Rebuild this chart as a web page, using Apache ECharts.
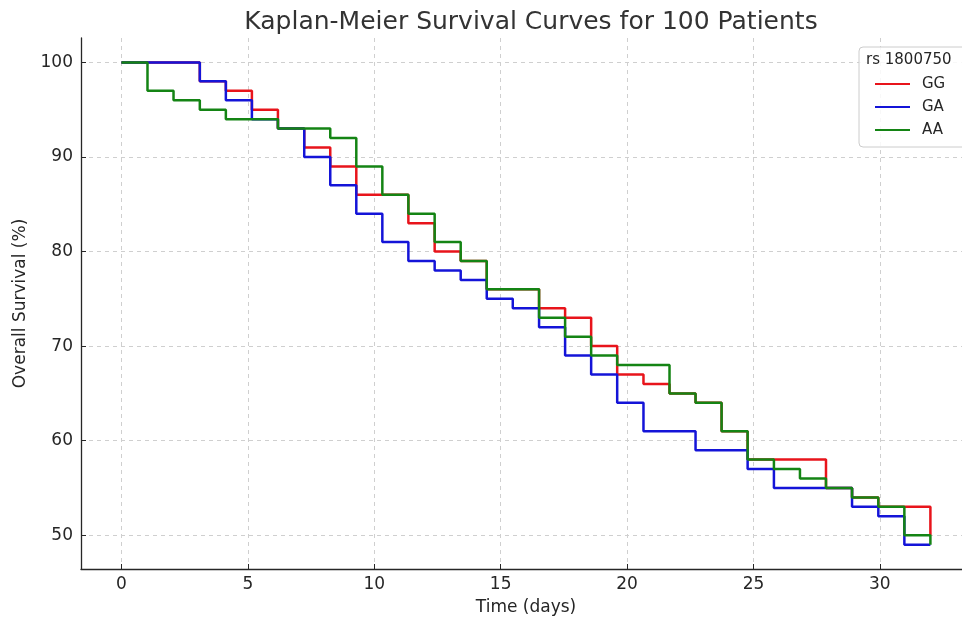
<!DOCTYPE html>
<html>
<head>
<meta charset="utf-8">
<script src="https://cdn.jsdelivr.net/npm/echarts@6/dist/echarts.min.js"></script>
<style>
  html, body { margin: 0; padding: 0; background: #fff; }
  #chart { width: 962px; height: 622px; }
</style>
</head>
<body>
<div id="chart"></div>
<script>
// event times (days), same grid for all three genotypes
const times = [0, 1.03, 2.06, 3.10, 4.13, 5.16, 6.19, 7.23, 8.26, 9.29, 10.32, 11.35,
    12.39, 13.42, 14.45, 15.48, 16.52, 17.55, 18.58, 19.61, 20.65, 21.68, 22.71,
    23.74, 24.77, 25.81, 26.84, 27.87, 28.90, 29.94, 30.97, 32.00]

// overall survival (%) per genotype
const survGG = [100, 100, 100, 98, 97, 95, 93, 91, 89, 86, 86, 83, 80, 79, 76, 76,
    74, 73, 70, 67, 66, 65, 64, 61, 58, 58, 58, 55, 54, 53, 53, 50]
const survGA = [100, 100, 100, 98, 96, 94, 93, 90, 87, 84, 81, 79, 78, 77, 75, 74,
    72, 69, 67, 64, 61, 61, 59, 59, 57, 55, 55, 55, 53, 52, 49, 49]
const survAA = [100, 97, 96, 95, 94, 94, 93, 93, 92, 89, 86, 84, 81, 79, 76, 76,
    73, 71, 69, 68, 68, 65, 64, 61, 58, 57, 56, 55, 54, 53, 50, 49]

const xTicks = [0, 5, 10, 15, 20, 25, 30]
const yTicks = [50, 60, 70, 80, 90, 100]

const seriesNames = ['GG', 'GA', 'AA']
const seriesColors = ['#e8141b', '#1414d8', '#148414']

const font = 'DejaVu Sans, sans-serif'
const textColor = '#262626'
const gridColor = '#cfcfcf'

const myChart = echarts.init(document.getElementById('chart'))

function toPairs(values) {
    return times.map((t, i) => [t, values[i]])
}

const option = {
    animation: false,
    backgroundColor: '#fff',
    title: {
        text: 'Kaplan-Meier Survival Curves for 100 Patients',
        left: 526,
        top: 5,
        textAlign: 'center',
        textStyle: { fontFamily: font, fontSize: 25, fontWeight: 'normal', color: '#333' }
    },
    grid: { left: 81, right: 0, top: 38, bottom: 53 },
    legend: {
        data: seriesNames,
        orient: 'vertical',
        left: 859,
        top: 47,
        padding: [28, 24, 8, 16],
        itemGap: 5,
        itemWidth: 35,
        itemHeight: 2,
        icon: 'rect',
        borderColor: '#cccccc',
        borderWidth: 1,
        borderRadius: 4,
        backgroundColor: 'rgba(255,255,255,0.85)',
        textStyle: { fontFamily: font, fontSize: 15, color: textColor, lineHeight: 18, padding: [0, 0, 0, 7] }
    },
    graphic: [{
        type: 'text',
        left: 866,
        top: 53,
        z: 100,
        style: { text: 'rs 1800750', font: '15px DejaVu Sans', fill: textColor }
    }],
    xAxis: {
        type: 'value',
        min: -1.6,
        max: 33.25,
        name: 'Time (days)',
        nameLocation: 'middle',
        nameGap: 30,
        nameTextStyle: { fontFamily: font, fontSize: 17, color: textColor, padding: [0, 0, 0, 9] },
        axisLine: { show: true, onZero: false, lineStyle: { color: '#262626', width: 1.3 } },
        axisTick: { show: true, inside: true, length: 5, customValues: xTicks, lineStyle: { color: '#262626' } },
        axisLabel: { customValues: xTicks, margin: 7, fontFamily: font, fontSize: 17, color: textColor },
        splitLine: { show: true, lineStyle: { color: gridColor, type: [4, 4], width: 1 } }
    },
    yAxis: {
        type: 'value',
        min: 46.43,
        max: 102.58,
        name: 'Overall Survival (%)',
        nameLocation: 'middle',
        nameGap: 52,
        nameTextStyle: { fontFamily: font, fontSize: 17, color: textColor },
        axisLine: { show: true, onZero: false, lineStyle: { color: '#262626', width: 1.3 } },
        axisTick: { show: true, inside: true, length: 5, customValues: yTicks, lineStyle: { color: '#262626' } },
        axisLabel: { customValues: yTicks, margin: 8, fontFamily: font, fontSize: 17, color: textColor },
        splitLine: { show: true, lineStyle: { color: gridColor, type: [4, 4], width: 1 } }
    },
    series: [survGG, survGA, survAA].map((vals, i) => ({
        name: seriesNames[i],
        type: 'line',
        step: 'end',
        data: toPairs(vals),
        showSymbol: false,
        color: seriesColors[i],
        lineStyle: { width: 2.5, color: seriesColors[i] },
        z: 2 + i
    }))
}

myChart.setOption(option)
</script>
</body>
</html>
